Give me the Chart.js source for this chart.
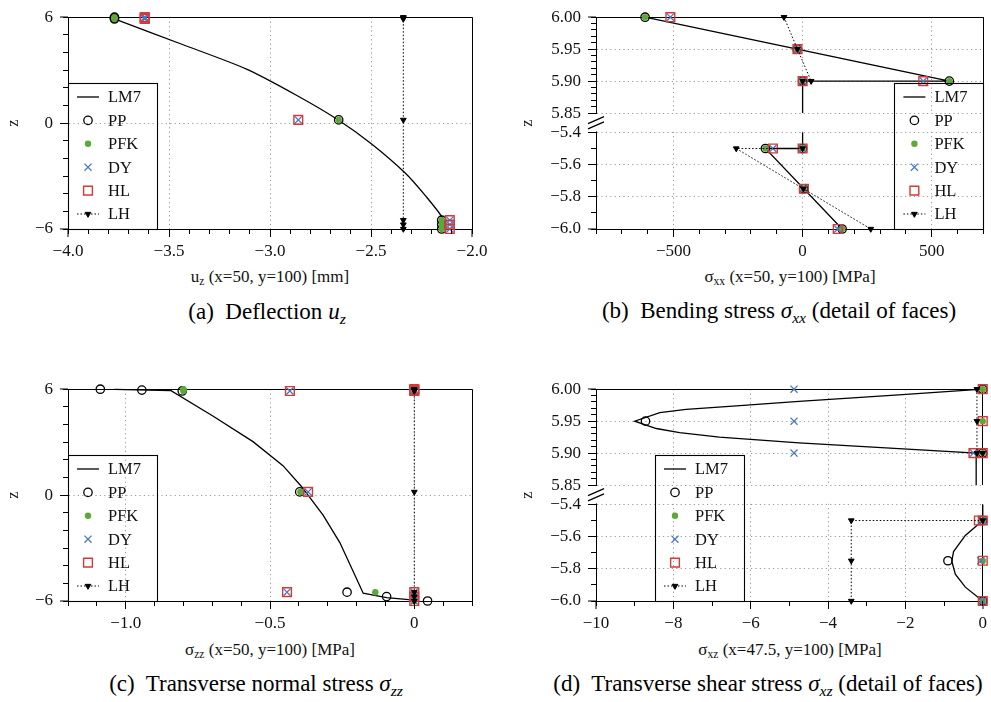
<!DOCTYPE html>
<html>
<head>
<meta charset="utf-8">
<script src="https://cdn.jsdelivr.net/npm/chart.js@4.4.1/dist/chart.umd.min.js"></script>
<style>
  body { margin: 0; background: #fff; width: 991px; height: 702px; position: relative; overflow: hidden; font-family: "Liberation Serif", "DejaVu Serif", serif; color: #111; }
  canvas { position: absolute; }
  .xt { position: absolute; font-size: 17px; line-height: 20px; transform: translateX(-50%); white-space: nowrap; }
  .cap { position: absolute; font-size: 23px; line-height: 26px; transform: translateX(-50%); white-space: nowrap; color: #000; }
  sub { font-size: 0.68em; vertical-align: -0.3em; line-height: 0; }
</style>
</head>
<body>
<canvas id="cA" width="495" height="262" style="left:0;top:0"></canvas>
<canvas id="cB" width="491" height="262" style="left:500px;top:0"></canvas>
<canvas id="cC" width="495" height="262" style="left:0;top:372px"></canvas>
<canvas id="cD" width="491" height="262" style="left:500px;top:372px"></canvas>

<div class="xt" style="left:270px;top:267px">u<sub>z</sub> (x=50, y=100) [mm]</div>
<div class="xt" style="left:790px;top:267px">σ<sub>xx</sub> (x=50, y=100) [MPa]</div>
<div class="xt" style="left:270px;top:640px">σ<sub>zz</sub> (x=50, y=100) [MPa]</div>
<div class="xt" style="left:790px;top:640px">σ<sub>xz</sub> (x=47.5, y=100) [MPa]</div>

<div class="cap" style="left:267px;top:299px">(a)&nbsp; Deflection <i>u<sub>z</sub></i></div>
<div class="cap" style="left:779px;top:298px">(b)&nbsp; Bending stress <i>σ<sub>xx</sub></i> (detail of faces)</div>
<div class="cap" style="left:256px;top:671px">(c)&nbsp; Transverse normal stress <i>σ<sub>zz</sub></i></div>
<div class="cap" style="left:768px;top:671px">(d)&nbsp; Transverse shear stress <i>σ<sub>xz</sub></i> (detail of faces)</div>

<script>
var FONT = '"Liberation Serif", "DejaVu Serif", serif';
var MINUS = '\u2212';

// ---- (a) deflection u_z ----
var zA = [6.0, 5.95, 5.9, 0.18, -5.5, -5.75, -6.0];
var ppA = [-3.77, -3.77, -3.77, -2.66, -2.15, -2.15, -2.15];
var pfkA = [-3.77, -3.77, -3.77, -2.66, -2.15, -2.15, -2.15];
var dyA = [-3.62, -3.62, -3.62, -2.86, -2.11, -2.11, -2.11];
var hlA = [-3.62, -3.62, -3.62, -2.86, -2.11, -2.11, -2.11];
var lhA = [-2.34, -2.34, -2.34, -2.34, -2.34, -2.34, -2.34];
var lm7A_x = [-3.77, -3.43, -3.116, -2.869, -2.662, -2.497, -2.332, -2.233, -2.142, -2.14];
var lm7A_z = [5.9, 4.44, 3.06, 1.58, 0.18, -1.18, -2.81, -4.08, -5.44, -6.0];
var xTicksA = [-4.0, -3.5, -3.0, -2.5, -2.0];
var yTicksA = [-6, 0, 6];

// ---- (b) bending stress sigma_xx ----
var zB = [6.0, 5.95, 5.9, 5.9, -5.5, -5.5, -5.75, -6.0];
var ppB = [-610, -21, 568, 0, 0, -144, 4, 153];
var pfkB = [-610, -21, 568, 0, 0, -144, 4, 153];
var dyB = [-512, -20, 467, 0, 0, -115, 5, 136];
var hlB = [-512, -20, 467, 0, 0, -115, 5, 136];
var lm7B_x = [-610, 568, 0, 0, null, 0, 0, -144, 153];
var lm7B_z = [6.0, 5.9, 5.9, 5.85, null, -5.4, -5.5, -5.5, -6.0];
var lhB_x = [-72, -20, 33, 0, null, 0, -257, 3, 264];
var lhB_z = [6.0, 5.95, 5.9, 5.9, null, -5.5, -5.5, -5.75, -6.0];
var xTicksB = [-500, 0, 500];

// ---- (c) transverse normal stress sigma_zz ----
var zC = [6.0, 5.95, 5.9, 0.18, -5.5, -5.75, -6.0];
var ppC = [-1.088, -0.944, -0.804, -0.397, -0.233, -0.096, 0.046];
var pfkC = [-0.80, -0.80, -0.80, -0.395, -0.135, 0, 0];
var zC_dh = [6.0, 5.95, 5.9, 5.9, 0.18, -5.5, -5.5, -5.75, -6.0];
var dyC = [0, 0, 0, -0.431, -0.368, -0.441, 0, 0, 0];
var hlC = [0, 0, 0, -0.431, -0.368, -0.441, 0, 0, 0];
var lhC = [0, 0, 0, 0, 0, 0, 0];
var lm7C_x = [-1.039, -0.843, -0.698, -0.559, -0.455, -0.391, -0.316, -0.258, -0.177, -0.096, 0];
var lm7C_z = [5.99, 5.92, 4.48, 3.03, 1.67, 0.49, -1.14, -2.69, -5.56, -5.81, -5.95];
var xTicksC = [-1.0, -0.5, 0];

// ---- (d) transverse shear stress sigma_xz ----
var zD = [6.0, 5.95, 5.9, -5.5, -5.75, -6.0];
var ppD = [0, -8.72, 0, 0, -0.90, 0];
var pfkD = [0, 0, 0, 0, 0, 0];
var zD_dy = [6.0, 5.95, 5.9, 5.9, -5.5, -5.75, -6.0];
var dyD = [-4.88, -4.88, -4.88, -0.24, 0, -0.05, 0];
var zD_hl = [6.0, 5.95, 5.9, 5.9, -5.5, -5.5, -5.75, -6.0];
var hlD = [0, 0, 0, -0.24, 0, -0.1, 0, 0];
var lhD_x = [-0.15, -0.15, -0.15, 0, null, 0, -3.4, -3.4, -3.4];
var lhD_z = [6.0, 5.95, 5.9, 5.9, null, -5.5, -5.5, -5.75, -6.0];
var lm7D_x = [0, -2.17, -4.75, -6.46, -7.67, -8.35, -9.0, -8.44, -7.84, -6.81, -4.75, -2.17, -0.17, -0.17, null, 0, 0, -0.45, -0.755, -0.80, -0.71, -0.45, 0];
var lm7D_z = [6.0, 5.991, 5.981, 5.9735, 5.9685, 5.9635, 5.95, 5.9385, 5.932, 5.925, 5.916, 5.907, 5.9, 5.85, null, -5.4, -5.5, -5.593, -5.693, -5.753, -5.833, -5.914, -6.0];
var xTicksD = [-10, -8, -6, -4, -2, 0];

// broken z axis (b, d): lower face and upper face
var yTicksBroken = [-6.0, -5.8, -5.6, -5.4, 5.85, 5.90, 5.95, 6.00];
var brokenSegs = [
    { from: -6.0, to: -5.4, f0: 0, f1: 0.456 },
    { from: 5.85, to: 6.0, f0: 0.5475, f1: 1 }
];

function steps(a, b, st) {
    var out = [], n = Math.round((b - a) / st);
    for (var i = 0; i <= n; i++) out.push(+(a + i * st).toFixed(6));
    return out;
}
function pts(xs, zs) {
    return xs.map(function (x, i) { return { x: x, y: zs[i] }; });
}
function fmt(dec) {
    return function (v) {
        if (Math.abs(v) < 1e-9) return '0';
        return (v < 0 ? MINUS : '') + Math.abs(v).toFixed(dec);
    };
}

class BrokenScale extends Chart.LinearScale {
    getPixelForValue(v) {
        if (v === null || v === undefined || isNaN(v)) return NaN;
        var s = brokenSegs, seg, f;
        if (v <= s[0].to) seg = s[0];
        else if (v >= s[1].from) seg = s[1];
        else {
            f = s[0].f1 + (v - s[0].to) / (s[1].from - s[0].to) * (s[1].f0 - s[0].f1);
            return this.getPixelForDecimal(f);
        }
        f = seg.f0 + (v - seg.from) / (seg.to - seg.from) * (seg.f1 - seg.f0);
        return this.getPixelForDecimal(f);
    }
}
BrokenScale.id = 'broken';
Chart.register(BrokenScale);

var STY = {
    LM7: { borderColor: '#000', borderWidth: 1.3, pointRadius: 0, showLine: true, order: 6 },
    PP: { showLine: false, pointStyle: 'circle', pointRadius: 4.2, pointBorderColor: '#000', pointBackgroundColor: 'rgba(0,0,0,0)', pointBorderWidth: 1.3, order: 5 },
    PFK: { showLine: false, pointStyle: 'circle', pointRadius: 3.2, pointBorderColor: '#5ea83a', pointBackgroundColor: '#5ea83a', pointBorderWidth: 0, order: 4 },
    DY: { showLine: false, pointStyle: 'crossRot', pointRadius: 5, pointBorderColor: '#4a78c2', pointBackgroundColor: '#4a78c2', pointBorderWidth: 1.3, order: 3 },
    HL: { showLine: false, pointStyle: 'rect', pointRadius: 6.2, pointBorderColor: '#d43a3a', pointBackgroundColor: 'rgba(0,0,0,0)', pointBorderWidth: 1.4, order: 2 },
    LH: { showLine: true, borderColor: '#000', borderWidth: 1, borderDash: [1.5, 2], pointStyle: 'triangle', pointRotation: 180, pointRadius: 3.3, pointBorderColor: '#000', pointBackgroundColor: '#000', pointBorderWidth: 1, order: 1 }
};
function ds(label, data, tension) {
    return Object.assign({ label: label, data: data, clip: false, tension: tension || 0, spanGaps: false }, STY[label]);
}

// ---- plugins ----
var framePlugin = {
    id: 'frame',
    beforeDatasetsDraw: function (chart, args, opts) {
        var a = chart.chartArea, ctx = chart.ctx, ys = chart.scales.y;
        var secs = [[a.top, a.bottom]];
        ctx.save();
        if (opts.broken) {
            var gTop = ys.getPixelForValue(brokenSegs[1].from), gBot = ys.getPixelForValue(brokenSegs[0].to);
            ctx.fillStyle = '#fff';
            ctx.fillRect(a.left - 2, gTop + 1, a.right - a.left + 4, gBot - gTop - 2);
            secs = [[a.top, gTop], [gBot, a.bottom]];
            var cy = (gTop + gBot) / 2;
            ctx.strokeStyle = '#000';
            ctx.lineWidth = 1.2;
            ctx.beginPath();
            [-2.6, 2.6].forEach(function (d) {
                ctx.moveTo(a.left - 8, cy + d + 3.5);
                ctx.lineTo(a.left + 8, cy + d - 3.5);
            });
            ctx.stroke();
        }
        ctx.strokeStyle = '#000';
        ctx.lineWidth = 1;
        ctx.beginPath();
        var t = Math.floor(a.top) + 0.5, r = Math.floor(a.right) + 0.5;
        ctx.moveTo(a.left, t);
        ctx.lineTo(a.right, t);
        secs.forEach(function (s) { ctx.moveTo(r, s[0]); ctx.lineTo(r, s[1]); });
        ctx.stroke();
        ctx.restore();
    }
};

var minorPlugin = {
    id: 'minorTicks',
    afterDraw: function (chart, args, opts) {
        var ctx = chart.ctx, a = chart.chartArea, len = opts.len || 5;
        ctx.save();
        ctx.strokeStyle = '#000';
        ctx.lineWidth = 1;
        ctx.beginPath();
        (opts.x || []).forEach(function (v) {
            var p = Math.floor(chart.scales.x.getPixelForValue(v)) + 0.5;
            ctx.moveTo(p, a.bottom);
            ctx.lineTo(p, a.bottom + len);
        });
        (opts.y || []).forEach(function (v) {
            var p = Math.floor(chart.scales.y.getPixelForValue(v)) + 0.5;
            ctx.moveTo(a.left, p);
            ctx.lineTo(a.left - len, p);
        });
        ctx.stroke();
        ctx.restore();
    }
};

var legendPlugin = {
    id: 'boxLegend',
    afterDraw: function (chart, args, opts) {
        var a = chart.chartArea, ctx = chart.ctx;
        var w = 89, h = 146, rowH = 23.4;
        var x0 = opts.right ? a.right - w : a.left + (opts.dx || 0);
        var y0 = a.bottom - h;
        ctx.save();
        ctx.strokeStyle = '#000';
        ctx.lineWidth = 1.1;
        ctx.strokeRect(Math.floor(x0) + 0.5, Math.floor(y0) + 0.5, w, h);
        ctx.font = '16.5px ' + FONT;
        ctx.textBaseline = 'middle';
        chart.data.datasets.forEach(function (d, i) {
            var cy = y0 + 14 + i * rowH, cx = x0 + 20;
            if (d.showLine) {
                ctx.save();
                ctx.strokeStyle = d.borderColor;
                ctx.lineWidth = d.borderWidth;
                ctx.setLineDash(d.borderDash || []);
                ctx.beginPath();
                ctx.moveTo(x0 + 9, cy);
                ctx.lineTo(x0 + 31, cy);
                ctx.stroke();
                ctx.restore();
            }
            if (d.pointRadius > 0) {
                ctx.save();
                ctx.fillStyle = d.pointBackgroundColor;
                ctx.strokeStyle = d.pointBorderColor;
                ctx.lineWidth = d.pointBorderWidth;
                Chart.helpers.drawPoint(ctx, { pointStyle: d.pointStyle, rotation: d.pointRotation || 0, radius: d.pointRadius, borderWidth: d.pointBorderWidth }, cx, cy);
                ctx.restore();
            }
            ctx.fillStyle = '#111';
            ctx.fillText(d.label, x0 + 40, cy + 1);
        });
        ctx.restore();
    }
};

// ---- scale builders ----
function edgeWidth(min, max) {
    return function (c) {
        if (!c.tick) return 1;
        var v = c.tick.value;
        return (Math.abs(v - min) < 1e-9 || Math.abs(v - max) < 1e-9) ? 0 : 1;
    };
}
function xScale(min, max, ticks, dec) {
    return {
        type: 'linear', min: min, max: max,
        afterBuildTicks: function (s) { s.ticks = ticks.map(function (v) { return { value: v }; }); },
        afterFit: function (s) { s.height = 33; },
        ticks: { callback: fmt(dec), autoSkip: false, maxRotation: 0, padding: 4, color: '#111', font: { family: FONT, size: 17 } },
        grid: { color: '#9a9a9a', lineWidth: edgeWidth(min, max), tickColor: '#000', tickWidth: 1, tickLength: 8 },
        border: { display: true, color: '#000', width: 1, dash: [1.2, 3.2] }
    };
}
function yScale(type, min, max, ticks, callback, width, titlePad) {
    return {
        type: type, min: min, max: max,
        afterBuildTicks: function (s) { s.ticks = ticks.map(function (v) { return { value: v }; }); },
        afterFit: function (s) { s.width = width; },
        title: { display: true, text: 'z', color: '#111', font: { family: FONT, size: 16 }, padding: { top: titlePad, bottom: 0 } },
        ticks: { callback: callback, autoSkip: false, padding: 7, color: '#111', font: { family: FONT, size: 17 } },
        grid: { color: '#9a9a9a', lineWidth: edgeWidth(min, max), tickColor: '#000', tickWidth: 1, tickLength: 8 },
        border: { display: true, color: '#000', width: 1, dash: [1.2, 3.2] }
    };
}
function brokenLabel(v) {
    return v > 0 ? v.toFixed(2) : MINUS + Math.abs(v).toFixed(1);
}
var minorBrokenY = steps(5.85, 6.0, 0.01).concat(steps(-6.0, -5.4, 0.1));

function makeChart(id, datasets, scales, pad, pluginOpts) {
    return new Chart(document.getElementById(id), {
        type: 'scatter',
        data: { datasets: datasets },
        options: {
            responsive: false, animation: false, events: [], devicePixelRatio: 1,
            layout: { padding: pad },
            scales: scales,
            plugins: Object.assign({ legend: { display: false }, tooltip: { enabled: false } }, pluginOpts)
        },
        plugins: [framePlugin, minorPlugin, legendPlugin]
    });
}

makeChart('cA', [
    ds('LM7', pts(lm7A_x, lm7A_z), 0.25),
    ds('PP', pts(ppA, zA)),
    ds('PFK', pts(pfkA, zA)),
    ds('DY', pts(dyA, zA)),
    ds('HL', pts(hlA, zA)),
    ds('LH', pts(lhA, zA))
], {
    x: xScale(-4, -2, xTicksA, 1),
    y: yScale('linear', -6, 6, yTicksA, fmt(0), 68, 4)
}, { left: 0, top: 8, right: 23, bottom: 0 }, {
    frame: {}, minorTicks: { x: steps(-4, -2, 0.1), y: steps(-6, 6, 1) }, boxLegend: {}
});

makeChart('cB', [
    ds('LM7', pts(lm7B_x, lm7B_z)),
    ds('PP', pts(ppB, zB)),
    ds('PFK', pts(pfkB, zB)),
    ds('DY', pts(dyB, zB)),
    ds('HL', pts(hlB, zB)),
    ds('LH', pts(lhB_x, lhB_z))
], {
    x: xScale(-800, 700, xTicksB, 0),
    y: yScale('broken', -6, 6, yTicksBroken, brokenLabel, 96, 18)
}, { left: 0, top: 8, right: 7, bottom: 0 }, {
    frame: { broken: true }, minorTicks: { x: steps(-800, 700, 100), y: minorBrokenY }, boxLegend: { right: true }
});

makeChart('cC', [
    ds('LM7', pts(lm7C_x, lm7C_z)),
    ds('PP', pts(ppC, zC)),
    ds('PFK', pts(pfkC, zC)),
    ds('DY', pts(dyC, zC_dh)),
    ds('HL', pts(hlC, zC_dh)),
    ds('LH', pts(lhC, zC))
], {
    x: xScale(-1.2, 0.2, xTicksC, 1),
    y: yScale('linear', -6, 6, yTicksA, fmt(0), 68, 4)
}, { left: 0, top: 9, right: 23, bottom: 0 }, {
    frame: {}, minorTicks: { x: steps(-1.2, 0.2, 0.1), y: steps(-6, 6, 1) }, boxLegend: {}
});

makeChart('cD', [
    ds('LM7', pts(lm7D_x, lm7D_z)),
    ds('PP', pts(ppD, zD)),
    ds('PFK', pts(pfkD, zD)),
    ds('DY', pts(dyD, zD_dy)),
    ds('HL', pts(hlD, zD_hl)),
    ds('LH', pts(lhD_x, lhD_z))
], {
    x: xScale(-10, 0, xTicksD, 0),
    y: yScale('broken', -6, 6, yTicksBroken, brokenLabel, 96, 18)
}, { left: 0, top: 9, right: 7, bottom: 0 }, {
    frame: { broken: true }, minorTicks: { x: steps(-10, 0, 1), y: minorBrokenY }, boxLegend: { dx: 59 }
});
</script>
</body>
</html>
